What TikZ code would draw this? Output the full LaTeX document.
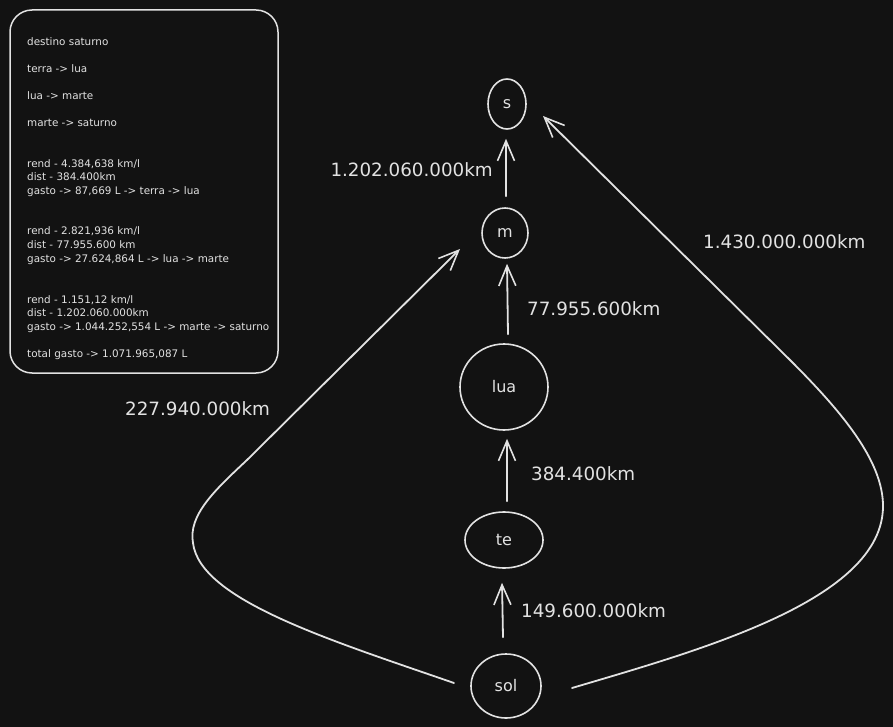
\documentclass[tikz,border=0pt]{standalone}
\usepackage{fontspec}
\setmainfont{DejaVu Sans}
\usetikzlibrary{shapes.geometric,arrows.meta,calc}
\definecolor{bg}{HTML}{121212}
\definecolor{ink}{HTML}{E2E2E2}
\begin{document}
\begin{tikzpicture}[x=1pt,y=-1pt,
  planet/.style={ellipse,draw=ink,line width=1.6pt,inner sep=0pt,text=ink,font=\fontsize{16}{19}\selectfont},
  arr/.style={draw=ink,line width=1.8pt,line cap=round,-{Straight Barb[length=20pt,width=17pt,line width=1.6pt]}},
  dist/.style={text=ink,inner sep=0pt,font=\fontsize{18.3}{22}\selectfont},
  note/.style={text=ink,inner sep=0pt,anchor=base west,font=\fontsize{10.4}{13}\selectfont},
  panel/.style={draw=ink,line width=1.5pt,rounded corners=22pt}]
\fill[bg] (0,0) rectangle (893,727);
\useasboundingbox (0,0) rectangle (893,727);

% notes panel
\draw[panel] (10,10) rectangle (278,373);
\node[note] (n1) at (27,46) {destino saturno};
\node[note] (n2) at (27,73) {terra -> lua};
\node[note] (n3) at (27,100) {lua -> marte};
\node[note] (n4) at (27,127) {marte -> saturno};
\node[note] (n5) at (27,168) {rend - 4.384,638 km/l};
\node[note] (n6) at (27,181) {dist - 384.400km};
\node[note] (n7) at (27,195) {gasto -> 87,669 L -> terra -> lua};
\node[note] (n8) at (27,235) {rend - 2.821,936 km/l};
\node[note] (n9) at (27,248) {dist - 77.955.600 km};
\node[note] (n10) at (27,262) {gasto -> 27.624,864 L -> lua -> marte};
\node[note] (n11) at (27,303) {rend - 1.151,12 km/l};
\node[note] (n12) at (27,316) {dist - 1.202.060.000km};
\node[note] (n13) at (27,330) {gasto -> 1.044.252,554 L -> marte -> saturno};
\node[note] (n14) at (27,357) {total gasto -> 1.071.965,087 L};

% planets
\node[planet,minimum width=38pt,minimum height=50pt] (s) at (507,104) {s};
\node[planet,minimum width=46pt,minimum height=50pt] (m) at (505,233) {m};
\node[planet,minimum width=88pt,minimum height=86pt] (lua) at (504,387) {lua};
\node[planet,minimum width=78pt,minimum height=56pt] (te) at (504,540) {te};
\node[planet,minimum width=70pt,minimum height=64pt] (sol) at (506,686) {sol};

% straight arrows
\draw[arr] ($(sol.north)+(-3,-16)$) -- ($(te.south)+(-2,14)$);
\draw[arr] ($(te.north)+(3,-10)$) -- ($(lua.south)+(3,8)$);
\draw[arr] ($(lua.north)+(4,-9)$) -- ($(m.south)+(2,5)$);
\draw[arr] ($(m.north)+(1,-11)$) -- ($(s.south)+(-1,9)$);

% curved arrows
\coordinate (lstart) at ($(sol.center)+(-52,-3)$);
\coordinate (lend) at ($(m.center)+(-45,16)$);
\draw[arr] (lstart) .. controls (330,640) and (200,600) .. (193,543)
  .. controls (188,515) and (215,490) .. (247,460) -- (lend);
\coordinate (rstart) at ($(sol.center)+(66,2)$);
\coordinate (rend) at ($(s.center)+(36,12)$);
\draw[arr] (rstart) .. controls (700,650) and (883,600) .. (883,506)
  .. controls (883,460) and (840,410) .. (790,360) -- (rend);

% distance labels
\node[dist,anchor=base west] (d1) at (521,617) {149.600.000km};
\node[dist,anchor=base west] (d2) at (531,480) {384.400km};
\node[dist,anchor=base west] (d3) at (527,315) {77.955.600km};
\node[dist,anchor=base east] (d4) at (493,177) {1.202.060.000km};
\node[dist,anchor=base west] (d5) at (703,248) {1.430.000.000km};
\node[dist,anchor=base west] (d6) at (125,415) {227.940.000km};
\end{tikzpicture}
\end{document}
